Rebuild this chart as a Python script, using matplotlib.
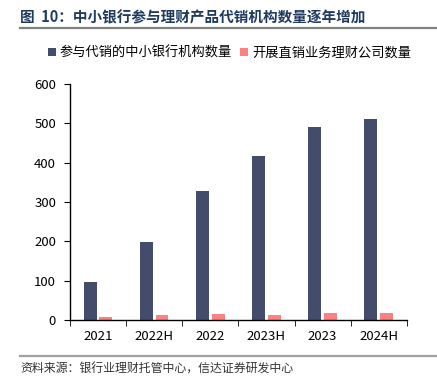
import matplotlib
matplotlib.use("Agg")
import matplotlib.pyplot as plt
import numpy as np

plt.rcParams['font.family'] = ['Noto Sans CJK SC', 'DejaVu Sans']
plt.rcParams['axes.unicode_minus'] = False

# data
years = ["2021", "2022H", "2022", "2023H", "2023", "2024H"]
banks = [97, 199, 328, 416, 491, 511]        # 参与代销的中小银行机构数量
wm_cos = [9, 13, 16, 14, 17, 19]             # 开展直销业务理财公司数量
y_ticks = [0, 100, 200, 300, 400, 500, 600]

dark = "#444C6C"
pink = "#FF8080"

fig = plt.figure(figsize=(4.37, 3.87), dpi=100)
ax = fig.add_axes([0.160, 0.173, 0.771, 0.610])

x = np.arange(len(years))
w = 0.23
ax.bar(x - 0.14, banks, width=w, color=dark, label="参与代销的中小银行机构数量")
ax.bar(x + 0.14, wm_cos, width=w, color=pink, label="开展直销业务理财公司数量")

ax.set_xlim(-0.5, len(years) - 0.5)
ax.set_ylim(0, 600)
ax.set_yticks(y_ticks)
ax.set_yticklabels([str(v) for v in y_ticks], fontsize=9.5)
ax.set_xticks(x)
ax.set_xticklabels(years, fontsize=9.5)
ax.tick_params(axis='x', length=0, pad=7)
ax.set_xticks(np.arange(-0.5, len(years)), minor=True)
ax.tick_params(axis='x', which='minor', length=4, direction='out')
ax.tick_params(axis='y', length=4, direction='out', pad=6)
for s in ["top", "right"]:
    ax.spines[s].set_visible(False)
for s in ["left", "bottom"]:
    ax.spines[s].set_linewidth(1.0)

ax.legend(loc='center', bbox_to_anchor=(0.525, 0.863), bbox_transform=fig.transFigure,
          ncol=2, frameon=False, fontsize=9.5, handlelength=0.6, handleheight=0.6,
          handletextpad=0.3, columnspacing=0.6)

# title and source
fig.text(0.046, 0.955, "图  10：中小银行参与理财产品代销机构数量逐年增加",
         fontsize=10.5, fontweight='bold', color="#1F3A5F", va='center', ha='left')
fig.add_artist(plt.Line2D([0.046, 1.0], [0.928, 0.928], color="#808080", lw=1.6,
                          transform=fig.transFigure))
fig.add_artist(plt.Line2D([0.046, 1.0], [0.081, 0.081], color="#A0A0A0", lw=1.6,
                          transform=fig.transFigure))
fig.text(0.046, 0.045, "资料来源：银行业理财托管中心，信达证券研发中心",
         fontsize=8.6, style='italic', color="#333333", va='center', ha='left')

fig.savefig("out.png", dpi=100)
